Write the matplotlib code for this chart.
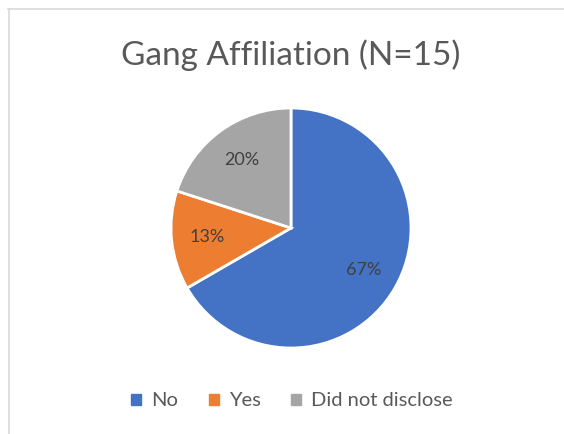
import matplotlib
matplotlib.use("Agg")
import matplotlib.pyplot as plt
from matplotlib.patches import Patch
from matplotlib.lines import Line2D

categories = ["No", "Yes", "Did not disclose"]
values = [10, 2, 3]
colors = ["#4472C4", "#ED7D31", "#A5A5A5"]
title = "Gang Affiliation (N=15)"

plt.rcParams['font.family'] = ['Lato', 'DejaVu Sans']

W, H = 564, 434
fig = plt.figure(figsize=(W / 100, H / 100), dpi=100)

# chart border (top & left visible)
fig.add_artist(Line2D([8 / W, 1], [1 - 8.5 / H, 1 - 8.5 / H], color="#D9D9D9", lw=1.2))
fig.add_artist(Line2D([8.5 / W, 8.5 / W], [0, 1 - 8.5 / H], color="#D9D9D9", lw=1.2))

cx, cy, r = 291, 228, 120
ax = fig.add_axes([(cx - r) / W, (H - cy - r) / H, 2 * r / W, 2 * r / H])
wedges, texts, autotexts = ax.pie(
    values, colors=colors, startangle=90, counterclock=False,
    autopct=lambda p: f"{p:.0f}%", pctdistance=0.7,
    wedgeprops=dict(edgecolor="white", linewidth=2),
    textprops=dict(color="#404040", fontsize=13),
    radius=1.0,
)
ax.set_xlim(-1, 1)
ax.set_ylim(-1, 1)
ax.set_aspect("equal")
ax.axis("off")

fig.text(291 / W, 1 - 55 / H, title, ha="center", va="center",
         fontsize=24, color="#595959")

handles = [Patch(facecolor=c, edgecolor=c) for c in colors]
fig.legend(handles, categories, loc="center", bbox_to_anchor=(292 / W, 1 - 401 / H),
           ncol=3, frameon=False, fontsize=14.5, labelcolor="#595959",
           handlelength=0.5, handleheight=0.5, handletextpad=0.5, columnspacing=1.5)

fig.savefig("out.png", dpi=100)
